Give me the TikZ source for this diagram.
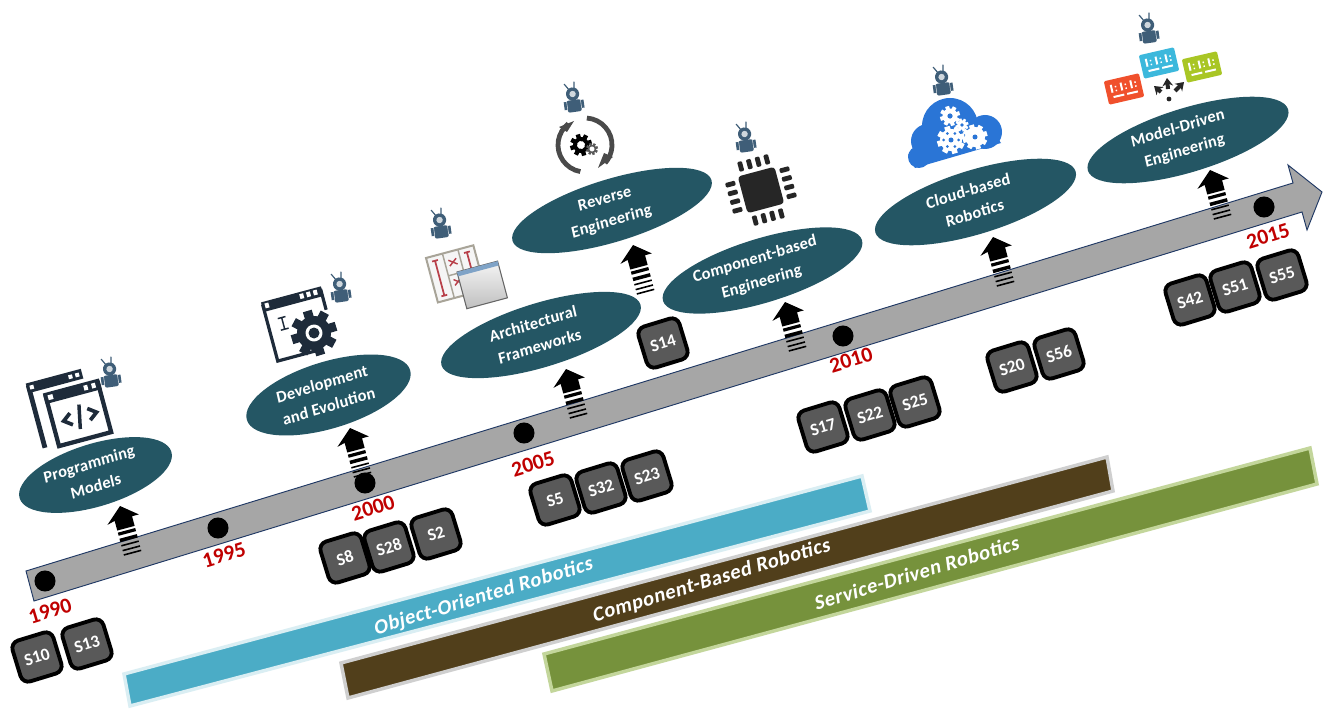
\documentclass[tikz,border=0pt]{standalone}
\usepackage{fontspec}
\setmainfont{Carlito}
\newfontfamily\ellf{Carlito}[BoldFeatures={FakeSlant=0.07,LetterSpace=1.2}]
\newfontfamily\bandf{Carlito}[BoldFeatures={FakeSlant=0.16,LetterSpace=2.5}]
\usetikzlibrary{shapes.geometric,arrows.meta}
\definecolor{teal1}{HTML}{245664}
\definecolor{axisgray}{HTML}{A6A6A6}
\definecolor{axisline}{HTML}{1F3864}
\definecolor{yearred}{HTML}{C00000}
\definecolor{sfill}{HTML}{595959}
\definecolor{navyicon}{HTML}{1E2B3A}
\definecolor{robotc}{HTML}{3F5E78}
\definecolor{cloudc}{HTML}{2A75D6}
\definecolor{bandblue}{HTML}{4BACC6}
\definecolor{bandblueb}{HTML}{DAEEF3}
\definecolor{bandbrown}{HTML}{513F1B}
\definecolor{bandbrownb}{HTML}{CFCFCF}
\definecolor{bandgreen}{HTML}{76923C}
\definecolor{bandgreenb}{HTML}{C3D69B}
\definecolor{kbred}{HTML}{F0502C}
\definecolor{kbblue}{HTML}{3CB8DC}
\definecolor{kbgreen}{HTML}{A9C625}
\definecolor{archline}{HTML}{A8A498}
\definecolor{archred}{HTML}{B8404A}
\definecolor{archbar}{HTML}{7FA3C7}
\definecolor{cycle}{HTML}{4A4A4A}
\tikzset{
  x=0.75pt,y=-0.75pt,
  topic/.style={ellipse,fill=teal1,rotate=17,inner sep=0pt},
  topictext/.style={text=white,rotate=17,inner sep=0pt,align=center,
    font=\ellf\bfseries\fontsize{12.4}{17.5}\selectfont},
  year/.style={text=yearred,rotate=17,inner sep=0pt,font=\bfseries\fontsize{16.2}{18}\selectfont},
  sbox/.style={draw=black,line width=2.9pt,fill=sfill,rounded corners=6pt,minimum size=32pt,inner sep=0pt,
    rotate=17,text=white,font=\bfseries\fontsize{13}{14}\selectfont},
  dot/.style={circle,fill=black,minimum size=15.8pt,inner sep=0pt},
  band/.style={line width=2.6pt,line join=miter},
  bandtext/.style={text=white,rotate=16.8,inner sep=0pt,font=\bandf\bfseries\fontsize{15.5}{17}\selectfont},
  pics/uparrow/.style={code={
    \fill[black] (0,0) -- (16,13) -- (9,13) -- (9,23) -- (-9,23) -- (-9,13) -- (-17,15) -- cycle;
    \fill[black] (-9,25.2) rectangle (9,28.4);
    \fill[black] (-9,31.5) rectangle (9,35);
    \fill[black] (-9,38) rectangle (9,39.6);
    \fill[black] (-9,43) rectangle (9,44.6);
    \fill[black] (-9,47.5) rectangle (9,49.1);
  }},
  pics/robot/.style={code={
    \draw[robotc,line width=0.9pt] (-2,-6) -- (-7,-14) (2,-6) -- (3,-15);
    \fill[robotc] (-10,4) rectangle (10,12);
    \fill[robotc,rounded corners=1.5pt] (-7,3) rectangle (7,15);
    \draw[white,line width=0.3pt] (-7,4) -- (-7,12) (7,4) -- (7,12);
    \fill[robotc] (0,-3) circle (6.6);
    \fill[white!75!robotc] (0,-3) circle (3.2);
  }},
  pics/keyb/.style={code={
    \fill[#1,rounded corners=1pt] (-18,-12) rectangle (18,12);
    \foreach \u in {-11,-1,9}{
      \fill[white] (\u-2,-7) rectangle (\u,1);
      \fill[white] (\u+2.5,-5) rectangle (\u+4,-3.5);
      \fill[white] (\u+2.5,-1) rectangle (\u+4,0.5);
    }
    \fill[white] (-12,4.5) rectangle (-1,6.5);
    \fill[white] (2,4.5) rectangle (13,6.5);
  }}
}
\newcommand\gearat[6]{% x,y,outer,inner,hole,colour
  \begin{scope}[shift={(#1,#2)},rotate=17]
    \foreach \a in {0,45,90,135}{\fill[#6,rotate=\a] (-0.2*#3,-#3) rectangle (0.2*#3,#3);}
    \fill[#6] (0,0) circle (#4);
    \fill[white] (0,0) circle (#5);
  \end{scope}}
\begin{document}
\begin{tikzpicture}
\useasboundingbox (0,0) rectangle (1330,709);
\fill[white] (0,0) rectangle (1330,709);

% bands
\coordinate (bl1) at (130,706); \coordinate (tl1) at (124,674); \coordinate (tr1) at (862,476); \coordinate (br1) at (870,511);
\coordinate (bl2) at (348,698); \coordinate (tl2) at (341,663); \coordinate (tr2) at (1107,457); \coordinate (br2) at (1113,491);
\coordinate (bl3) at (552,691); \coordinate (tl3) at (544,654); \coordinate (tr3) at (1310,448); \coordinate (br3) at (1317,484);
\draw[band,draw=bandblueb,fill=bandblue] (bl1) -- (tl1) -- (tr1) -- (br1) -- cycle;
\draw[band,draw=bandbrownb,fill=bandbrown] (bl2) -- (tl2) -- (tr2) -- (br2) -- cycle;
\draw[band,draw=bandgreenb,fill=bandgreen] (bl3) -- (tl3) -- (tr3) -- (br3) -- cycle;
\node[bandtext] (bt1) at (483,597) {Object-Oriented Robotics};
\node[bandtext] (bt2) at (711,581) {Component-Based Robotics};
\node[bandtext] (bt3) at (916,573) {Service-Driven Robotics};

% timeline
\draw[axisline,line width=0.7pt,fill=axisgray,line join=miter]
  (26,571) -- (1293,183) -- (1288,165) -- (1322,192) -- (1307,230) -- (1302,212) -- (34,601) -- cycle;
\node[dot] (d1990) at (45,581) {};
\node[dot] (d1995) at (218,528) {};
\node[dot] (d2000) at (365,483) {};
\node[dot] (d2005) at (524,433) {};
\node[dot] (d2010) at (843,336) {};
\node[dot] (d2015) at (1264,207) {};
\node[year] (y1990) at (50,611) {1990};
\node[year] (y1995) at (224,555) {1995};
\node[year] (y2000) at (373,508) {2000};
\node[year] (y2005) at (533,464) {2005};
\node[year] (y2010) at (851,360) {2010};
\node[year] (y2015) at (1268,236) {2015};

% hatched arrows
\pic[rotate=15] at (120,506) {uparrow};
\pic[rotate=15] at (350,428) {uparrow};
\pic[rotate=15] at (566,369) {uparrow};
\pic[rotate=15] at (633,245) {uparrow};
\pic[rotate=15] at (785,302) {uparrow};
\pic[rotate=15] at (993,237) {uparrow};
\pic[rotate=15] at (1210,170) {uparrow};

% topics
\node[topic,minimum width=119pt,minimum height=47pt] (e1) at (95.5,475) {};
\node[topic,minimum width=128pt,minimum height=50pt] (e2) at (328.5,395) {};
\node[topic,minimum width=156pt,minimum height=48pt] (e3) at (541,335) {};
\node[topic,minimum width=156pt,minimum height=47pt] (e4) at (612,210.5) {};
\node[topic,minimum width=156pt,minimum height=48pt] (e5) at (762.5,270.5) {};
\node[topic,minimum width=157pt,minimum height=48pt] (e6) at (975.5,202) {};
\node[topic,minimum width=157pt,minimum height=48pt] (e7) at (1188,140) {};
\node[topictext] (t1) at (92,475) {Programming\\Models};
\node[topictext] (t2) at (325,395) {Development\\and Evolution};
\node[topictext] (t3) at (536,335) {Architectural\\Frameworks};
\node[topictext] (t4) at (608,211) {Reverse\\Engineering};
\node[topictext] (t5) at (758,271) {Component-based\\Engineering};
\node[topictext] (t6) at (971,202) {Cloud-based\\Robotics};
\node[topictext] (t7) at (1181,140) {Model-Driven\\Engineering};

% study boxes
\foreach \n/\x/\y in {S10/37/657,S13/87/644,S8/345/558,S28/389/547,S2/436/534,S5/555/500,S32/601/488,S23/647/476,
  S14/663/343,S17/823/427,S22/870/415,S25/915/402,S20/1012/367,S56/1059/354,S42/1190/300,S51/1235/287,S55/1282/275}{
  \node[sbox] (\n) at (\x,\y) {\n};
}

% robots
\foreach \x/\y in {110/372,340/287,440/223,573/97,745/137,942/80,1148/28}{
  \pic[rotate=8] at (\x,\y) {robot};
}

% icon: programming
\begin{scope}[shift={(62,407)},rotate=15]
  \draw[navyicon,line width=3.6pt] (-27,35) -- (-27,-27) -- (27,-27);
  \fill[navyicon] (-29,-32) rectangle (28,-22);
  \fill[white] (-26,-29) rectangle (-22,-25) (14,-29) rectangle (18,-25) (21,-29) rectangle (25,-25);
  \draw[navyicon,line width=3.2pt,fill=white] (-13,-14) rectangle (41,37);
  \fill[navyicon] (-15,-18) rectangle (43,-7);
  \fill[white] (-11,-15) rectangle (-6,-10) (26,-15) rectangle (30,-10) (34,-15) rectangle (38,-10);
  \draw[navyicon,line width=2.8pt] (6,8) -- (-2,14) -- (6,20) (24,8) -- (32,14) -- (24,20);
  \draw[navyicon,line width=2.6pt] (17,2) -- (12,26);
\end{scope}

% icon: development
\begin{scope}[shift={(263,306)},rotate=15]
  \draw[navyicon,line width=2.4pt,line join=miter] (40,57) -- (0,57) -- (0,0) -- (60,0) -- (60,20);
  \fill[navyicon] (-1,-4) rectangle (61,6);
  \fill[white] (2,-2) rectangle (6,3) (38,-2) rectangle (42,3) (45,-2) rectangle (49,3) (52,-2) rectangle (56,3);
  \draw[navyicon,line width=1.1pt] (11,16) -- (19,16) (15,16) -- (15,28) (11,28) -- (19,28);
\end{scope}
\gearat{314}{333}{23}{17}{8.5}{navyicon}
\fill[navyicon] (314,333) circle (5.5);

% icon: architecture
\begin{scope}[shift={(426,258)},rotate=15]
  \draw[archline,line width=1.5pt,fill=white!92!gray] (0,0) rectangle (49,46);
  \draw[archline,line width=1.1pt] (17,0) -- (17,46) (33,0) -- (33,46) (17,23) -- (33,23);
  \draw[archred,line width=1.3pt] (8,5) -- (8,41) (41,5) -- (41,41) (5,5) -- (11,5) (5,41) -- (11,41) (38,5) -- (44,5);
  \draw[archred,line width=1.1pt] (21,8) -- (29,14) (29,8) -- (21,14) (21,28) -- (29,34) (29,28) -- (21,34);
\end{scope}
\begin{scope}[shift={(457,272)},rotate=15]
  \shade[top color=white!92!gray,bottom color=gray!50,draw=gray!80!black,line width=0.8pt] (0,0) rectangle (42,38);
  \fill[archbar] (0,0) rectangle (42,4.5);
\end{scope}

% icon: reverse engineering
\begin{scope}[shift={(585,145)}]
  \draw[cycle,line width=3.6pt] (-86:27) arc[start angle=-86,end angle=42,radius=27];
  \draw[cycle,line width=3.6pt] (100:27) arc[start angle=100,end angle=232,radius=27];
  \fill[cycle] (13,23) -- (28,12) -- (19,8) -- cycle;
  \fill[cycle] (-11,-24) -- (-26,-18) -- (-18,-13) -- cycle;
\end{scope}
\gearat{581}{145}{11}{8}{4}{black}
\gearat{592}{149}{6}{4.5}{2.5}{gray!70!black}

% icon: chip
\begin{scope}[shift={(761,190)},rotate=15]
  \fill[black!85,rounded corners=2.5pt] (-19,-19) rectangle (19,19);
  \foreach \u in {-13.5,-4.5,4.5,13.5}{
    \fill[black!85,rounded corners=0.8pt] (\u-2.4,-33) rectangle (\u+2.4,-23);
    \fill[black!85,rounded corners=0.8pt] (\u-2.4,23) rectangle (\u+2.4,33);
    \fill[black!85,rounded corners=0.8pt] (-33,\u-2.4) rectangle (-23,\u+2.4);
    \fill[black!85,rounded corners=0.8pt] (23,\u-2.4) rectangle (33,\u+2.4);
  }
\end{scope}

% icon: cloud
\fill[cloudc] (950,126) circle (28);
\fill[cloudc] (985,132) circle (17);
\fill[cloudc] (928,141) circle (17);
\fill[cloudc] (919,157) circle (11);
\fill[cloudc] (915,168) -- (1001,143) -- (985,120) -- (930,130) -- (908,155) -- cycle;
\gearat{950}{116}{10}{7.5}{3}{white}
\fill[cloudc] (950,116) circle (2.6);
\gearat{962}{125}{6.5}{5}{2}{white}
\fill[cloudc] (962,125) circle (1.8);
\gearat{951}{140}{14}{11}{4}{white}
\foreach \a in {0,60,...,300}{\fill[cloudc] (951,140) ++(\a:7.5) circle (1.5);}
\fill[cloudc] (951,140) circle (2.5);
\gearat{975}{137}{12.5}{10}{3.5}{white}
\fill[cloudc] (975,137) circle (2.5);

% icon: model-driven
\pic[rotate=13] at (1124,89) {keyb=kbred};
\pic[rotate=13] at (1159,63) {keyb=kbblue};
\pic[rotate=13] at (1202,67) {keyb=kbgreen};
\coordinate (mc) at (1169,92);
\begin{scope}[line width=3pt,draw=gray!30!black,-{Stealth[length=6pt,width=8pt]}]
  \draw ([shift={(-8,0)}]mc) -- ([shift={(-15,-6)}]mc);
  \draw ([shift={(-1,-3)}]mc) -- ([shift={(-2,-14)}]mc);
  \draw ([shift={(6,-1)}]mc) -- ([shift={(15,-10)}]mc);
\end{scope}
\fill[gray!30!black] (1169,99) circle (2.4);
\end{tikzpicture}
\end{document}
